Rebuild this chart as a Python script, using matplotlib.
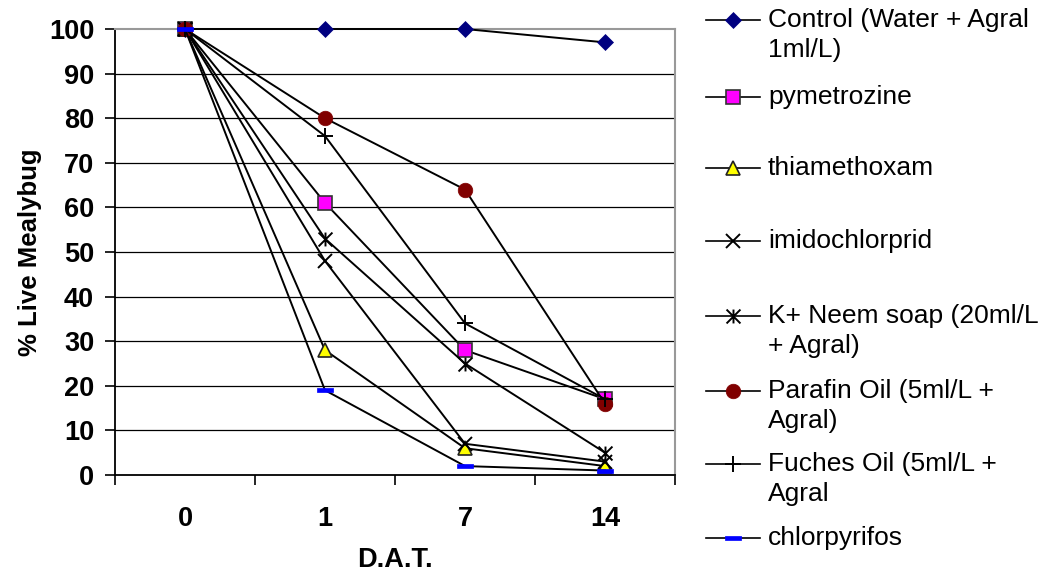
import matplotlib
matplotlib.use("Agg")
import matplotlib.pyplot as plt
from matplotlib.path import Path
from matplotlib.lines import Line2D

plt.rcParams['font.family'] = ['Liberation Sans', 'DejaVu Sans']

# Days after treatment and % live mealybug per treatment
days = ["0", "1", "7", "14"]
control = [100, 100, 100, 97]
pymetrozine = [100, 61, 28, 17]
thiamethoxam = [100, 28, 6, 2]
imidochlorprid = [100, 48, 7, 3]
neem_soap = [100, 53, 25, 5]
parafin_oil = [100, 80, 64, 16]
fuches_oil = [100, 76, 34, 17]
chlorpyrifos = [100, 19, 2, 1]

labels = [
    "Control (Water + Agral\n1ml/L)",
    "pymetrozine",
    "thiamethoxam",
    "imidochlorprid",
    "K+ Neem soap (20ml/L\n+ Agral)",
    "Parafin Oil (5ml/L +\nAgral)",
    "Fuches Oil (5ml/L +\nAgral",
    "chlorpyrifos",
]
yticks = list(range(0, 101, 10))

# custom marker shapes
asterisk = Path([(0, -1), (0, 1), (-1, -1), (1, 1), (-1, 1), (1, -1)],
                [Path.MOVETO, Path.LINETO, Path.MOVETO, Path.LINETO,
                 Path.MOVETO, Path.LINETO])
dash_bar = Path([(-1, -0.32), (1, -0.32), (1, 0.32), (-1, 0.32), (-1, -0.32)],
                [Path.MOVETO, Path.LINETO, Path.LINETO, Path.LINETO, Path.CLOSEPOLY])

styles = [
    dict(marker='D', markersize=8.5, markerfacecolor='#000080', markeredgecolor='#000080', markeredgewidth=0.5),
    dict(marker='s', markersize=9.5, markerfacecolor='#FF00FF', markeredgecolor='#333333', markeredgewidth=1.2),
    dict(marker='^', markersize=10.5, markerfacecolor='#FFFF00', markeredgecolor='#222222', markeredgewidth=1.2),
    dict(marker='x', markersize=10, markerfacecolor='none', markeredgecolor='black', markeredgewidth=1.4),
    dict(marker=asterisk, markersize=10, markerfacecolor='none', markeredgecolor='black', markeredgewidth=1.4),
    dict(marker='o', markersize=10.5, markerfacecolor='#800000', markeredgecolor='#800000', markeredgewidth=0.5),
    dict(marker='+', markersize=12, markerfacecolor='none', markeredgecolor='black', markeredgewidth=1.4),
    dict(marker=dash_bar, markersize=11, markerfacecolor='#0000FF', markeredgecolor='#0000FF', markeredgewidth=0.5),
]
series = [control, pymetrozine, thiamethoxam, imidochlorprid,
          neem_soap, parafin_oil, fuches_oil, chlorpyrifos]

FS_TICK = 19.5
FS_LEG = 19

W, H = 1039, 574
fig = plt.figure(figsize=(W / 100, H / 100), dpi=100)
ax = fig.add_axes([115 / W, 1 - 475 / H, 560 / W, 446 / H])

x = list(range(len(days)))
for vals, st in zip(series, styles):
    ax.plot(x, vals, color='black', linewidth=1.4, zorder=3, clip_on=False, **st)

ax.set_xlim(-0.5, len(days) - 0.5)
ax.set_ylim(0, 100)
ax.set_yticks(yticks)
ax.set_yticklabels([str(t) for t in yticks], fontsize=FS_TICK, fontweight='bold')
ax.set_xticks(x)
ax.set_xticklabels(days, fontsize=FS_TICK, fontweight='bold')
ax.set_xticks([i + 0.5 for i in range(-1, len(days))], minor=True)
ax.tick_params(axis='x', which='major', length=0, pad=22)
ax.tick_params(axis='x', which='minor', length=7, width=1.2, direction='out', color='black')
ax.tick_params(axis='y', length=7, width=1.2, direction='out', pad=8)

for t in yticks[1:-1]:
    ax.axhline(t, color='black', linewidth=0.9, zorder=1)

ax.spines['left'].set_color('black')
ax.spines['left'].set_linewidth(1.3)
ax.spines['bottom'].set_color('black')
ax.spines['bottom'].set_linewidth(1.3)
ax.spines['top'].set_color('#999999')
ax.spines['top'].set_linewidth(1.5)
ax.spines['right'].set_color('#999999')
ax.spines['right'].set_linewidth(1.5)

ax.set_ylabel("% Live Mealybug", fontsize=18.5, fontweight='bold', labelpad=5)
ax.set_xlabel("D.A.T.", fontsize=FS_TICK, fontweight='bold', labelpad=11)

# legend drawn entry by entry so the key aligns with the first text line
first_line_y = [20, 97, 168, 241, 316, 391, 464, 538]
line_gap = 30
for lab, st, yp in zip(labels, styles, first_line_y):
    yf = 1 - yp / H
    fig.add_artist(Line2D([706 / W, 760 / W], [yf, yf], color='black', linewidth=1.2,
                          transform=fig.transFigure))
    fig.add_artist(Line2D([733 / W], [yf], linestyle='none', transform=fig.transFigure, **st))
    for k, part in enumerate(lab.split("\n")):
        fig.text(768 / W, 1 - (yp + k * line_gap) / H, part, fontsize=FS_LEG,
                 va='center', ha='left')

fig.savefig("out.png", dpi=100)
